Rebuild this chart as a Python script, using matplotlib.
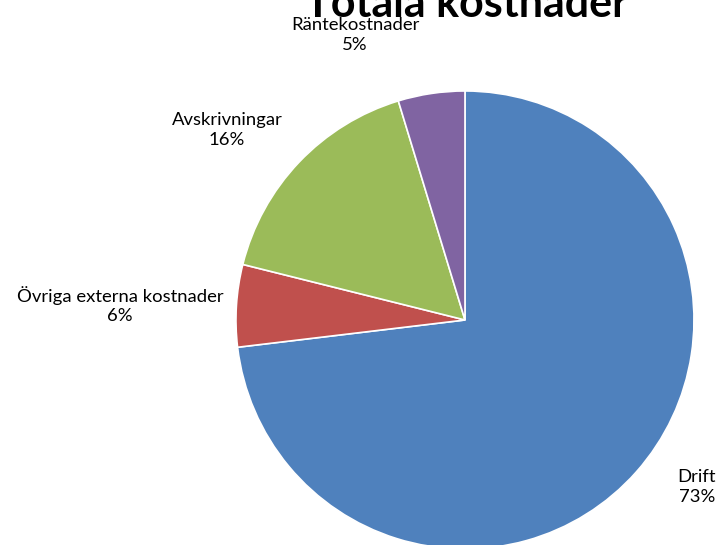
import matplotlib
matplotlib.use("Agg")
import matplotlib.pyplot as plt

plt.rcParams['font.family'] = ['Lato', 'DejaVu Sans']

# data
kategorier = ["Drift", "Övriga externa kostnader", "Avskrivningar", "Räntekostnader"]
andel = [73.1, 5.8, 16.4, 4.7]
farger = ["#4F81BD", "#C0504D", "#9BBB59", "#8064A2"]

# where the labels sit (pie radius units, from the centre)
etikett_pos = [(1.013, -0.729), (-1.507, 0.066), (-1.039, 0.830), (-0.480, 1.245)]

fig = plt.figure(figsize=(7.17, 5.45), dpi=100)
ax = fig.add_axes([0.3291, -0.00734, 0.6388, 0.8404])

ax.pie(andel, colors=farger, startangle=90, counterclock=False,
       wedgeprops=dict(edgecolor="white", linewidth=1.2))
ax.set_xlim(-1, 1)
ax.set_ylim(-1, 1)
ax.set_aspect("equal")
ax.axis("off")

summa = sum(andel)
for namn, v, (px, py) in zip(kategorier, andel, etikett_pos):
    ax.text(px, py, f"{namn}\n{v / summa * 100:.0f}%", ha="center", va="center",
            fontsize=13.3, linespacing=1.25, clip_on=False)

fig.text(0.651, 0.969, "Totala kostnader", ha="center", va="baseline",
         fontsize=31, fontweight="bold")

fig.savefig("out.png", dpi=100)
